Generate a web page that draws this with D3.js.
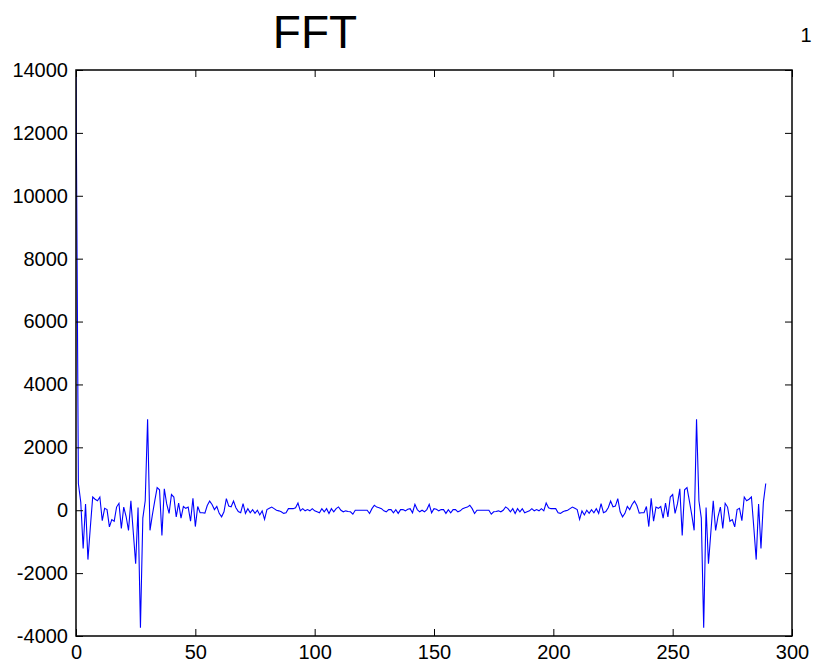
<!DOCTYPE html>
<html>
<head>
<meta charset="utf-8">
<script src="https://cdn.jsdelivr.net/npm/d3@7"></script>
<style>
  body { margin: 0; background: #fff; }
  svg { display: block; font-family: Arial, "Liberation Sans", sans-serif; }
</style>
</head>
<body>
<svg id="chart" width="813" height="664"></svg>
<script>
const lowerBins = [
  13980, 850, 250, -1220, 200, -1570, -550, 420, 350, 300,
  420, -330, 60, 20, -530, -300, -350, 100, 220, -580,
  100, -200, -640, 300, -700, -1700, 85, -3740, -250, 300,
  2890, -640, -150, 300, 720, 650, -800, 680, 200, -100,
  500, 420, -210, 230, -250, 120, 60, 100, -350, 380,
  -520, 120, -80, -80, -90, 150, 290, 180, 20, 120,
  -100, -210, -50, 370, 130, 110, 290, 80, -40, -80,
  210, -100, 50, -80, 20, -100, 0, -150, -20, -290,
  20, 60, 100, 50, 0, -20, -50, -100, -80, 50,
  50, 50, 80, 230, -20, 50, -20, 20, -20, 50,
  -20, -50, -80, 50, -50, 50, -105, 50, -50, 50,
  105, 0, -50, -20, -40, -50, -126, 0, 0, 0,
  0, 0, 0, -105, 50, 157, 100, 80, 50, -20,
  -50, 20, 20, -80, 20, -100, 20, 20, -20, 30,
  50, -80, 190, 20, -50, 0
];
const upperBins = [
  -50, 20, 190, -80, 50,
  30, -20, 20, 20, -100, 20, -80, 20, 20, -50,
  -20, 50, 80, 100, 157, 50, -105, 0, 0, 0,
  0, 0, 0, -126, -50, -40, -20, -50, 0, 105,
  50, -50, 50, -105, 50, -50, 50, -80, -50, -20,
  50, -20, 20, -20, 50, -20, 230, 80, 50, 50,
  50, -80, -100, -50, -20, 0, 50, 100, 60, 20,
  -290, -20, -150, 0, -100, 20, -80, 50, -100, 210,
  -80, -40, 80, 290, 110, 130, 370, -50, -210, -100,
  120, 20, 180, 290, 150, -90, -80, -80, 120, -520,
  380, -350, 100, 60, 120, -250, 230, -210, 420, 500,
  -100, 200, 680, -800, 650, 720, 300, -150, -640, 2890,
  300, -250, -3740, 85, -1700, -700, 300, -640, -200, 100,
  -580, 220, 100, -350, -300, -530, 20, 60, -330, 420,
  300, 350, 420, -550, -1570, 200, -1220, 250, 850
];
const fftValues = lowerBins.concat(upperBins);

const xTicks = [0, 50, 100, 150, 200, 250, 300];
const yTicks = [-4000, -2000, 0, 2000, 4000, 6000, 8000, 10000, 12000, 14000];

const plotLeft = 76, plotRight = 792, plotTop = 70, plotBottom = 636;
const tickLen = 7;

const svg = d3.select("#chart");

const x = d3.scaleLinear().domain([0, 300]).range([plotLeft, plotRight]);
const y = d3.scaleLinear().domain([-4000, 14000]).range([plotBottom, plotTop]);

svg.append("defs").append("clipPath").attr("id", "plotclip")
  .append("rect")
  .attr("x", plotLeft).attr("y", plotTop)
  .attr("width", plotRight - plotLeft).attr("height", plotBottom - plotTop);

// data line
const line = d3.line()
  .x((d, i) => x(i))
  .y(d => y(d));

svg.append("path")
  .datum(fftValues)
  .attr("clip-path", "url(#plotclip)")
  .attr("fill", "none")
  .attr("stroke", "#0000ff")
  .attr("stroke-width", 1.1)
  .attr("d", line);

// plain labels, ascii minus, no thousands separator
const plain = d => String(d);

// axes, ticks pointing inward on all four sides
const bottomAxis = d3.axisBottom(x).tickValues(xTicks).tickSize(-tickLen).tickPadding(9).tickFormat(plain);
const leftAxis = d3.axisLeft(y).tickValues(yTicks).tickSize(-tickLen).tickPadding(8).tickFormat(plain);
const topAxis = d3.axisTop(x).tickValues(xTicks).tickSize(-tickLen).tickFormat("");
const rightAxis = d3.axisRight(y).tickValues(yTicks).tickSize(-tickLen).tickFormat("");

function styleAxis(g) {
  g.select(".domain").remove();
  g.selectAll(".tick line").attr("stroke", "#000").attr("stroke-width", 1);
  g.selectAll(".tick text")
    .attr("fill", "#000")
    .style("font-size", "20px")
    .style("font-family", "Arial, 'Liberation Sans', sans-serif");
}

svg.append("g").attr("transform", `translate(0,${plotBottom})`).call(bottomAxis).call(styleAxis);
svg.append("g").attr("transform", `translate(${plotLeft},0)`).call(leftAxis).call(styleAxis);
svg.append("g").attr("transform", `translate(0,${plotTop})`).call(topAxis).call(styleAxis);
svg.append("g").attr("transform", `translate(${plotRight},0)`).call(rightAxis).call(styleAxis);

// box
svg.append("rect")
  .attr("x", plotLeft).attr("y", plotTop)
  .attr("width", plotRight - plotLeft).attr("height", plotBottom - plotTop)
  .attr("fill", "none")
  .attr("stroke", "#000")
  .attr("stroke-width", 1.5);

// title and the figure number
svg.append("text")
  .attr("x", 315).attr("y", 48)
  .attr("text-anchor", "middle")
  .style("font-size", "46px")
  .text("FFT");

svg.append("text")
  .attr("x", 806).attr("y", 42)
  .attr("text-anchor", "middle")
  .style("font-size", "20px")
  .text("1");
</script>
</body>
</html>
